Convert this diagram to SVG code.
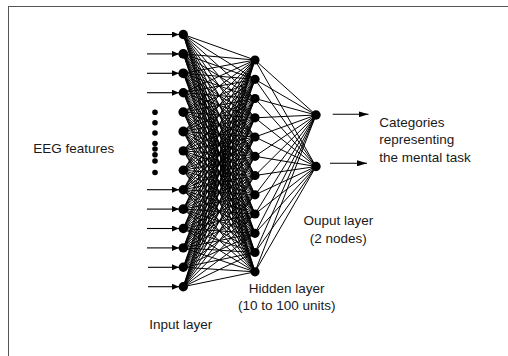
<svg xmlns="http://www.w3.org/2000/svg" width="508" height="356" viewBox="0 0 508 356">
<style>
.n{fill:#000}
.d{fill:#000}
.w{fill:none;stroke:#000;stroke-width:1;stroke-linejoin:round}
.a{stroke:#000;stroke-width:1.1;fill:none}
.t{font-family:"Liberation Sans",Arial,sans-serif;font-size:13.5px;fill:#1a1a1a}
</style>
<defs>
<marker id="ah" markerUnits="userSpaceOnUse" markerWidth="7" markerHeight="6" refX="7" refY="3" orient="auto"><path d="M0,0L7,3L0,6z" fill="#000"/></marker>
<marker id="ah2" markerUnits="userSpaceOnUse" markerWidth="10" markerHeight="6" refX="10" refY="3" orient="auto"><path d="M0,0L10,3L0,6z" fill="#000"/></marker>
</defs>
<rect x="8.5" y="6.5" width="520" height="370" fill="#fff" stroke="#555" stroke-width="1"/>
<g id="connectors">
<polyline class="w" points="183.3,34.5 255,60 183.3,53.9 255,79.3 183.3,34.5 255,98.5 183.3,53.9 255,117.8 183.3,34.5 255,137 183.3,53.9 255,156.3 183.3,34.5 255,175.5 183.3,53.9 255,194.8 183.3,34.5 255,214 183.3,53.9 255,233.3 183.3,34.5 255,252.5 183.3,53.9 255,271.8 183.3,34.5"/>
<polyline class="w" points="183.3,73.3 255,60 183.3,92.7 255,79.3 183.3,73.3 255,98.5 183.3,92.7 255,117.8 183.3,73.3 255,137 183.3,92.7 255,156.3 183.3,73.3 255,175.5 183.3,92.7 255,194.8 183.3,73.3 255,214 183.3,92.7 255,233.3 183.3,73.3 255,252.5 183.3,92.7 255,271.8 183.3,73.3"/>
<polyline class="w" points="183.3,112.1 255,60 183.3,131.5 255,79.3 183.3,112.1 255,98.5 183.3,131.5 255,117.8 183.3,112.1 255,137 183.3,131.5 255,156.3 183.3,112.1 255,175.5 183.3,131.5 255,194.8 183.3,112.1 255,214 183.3,131.5 255,233.3 183.3,112.1 255,252.5 183.3,131.5 255,271.8 183.3,112.1"/>
<polyline class="w" points="183.3,150.9 255,60 183.3,170.3 255,79.3 183.3,150.9 255,98.5 183.3,170.3 255,117.8 183.3,150.9 255,137 183.3,170.3 255,156.3 183.3,150.9 255,175.5 183.3,170.3 255,194.8 183.3,150.9 255,214 183.3,170.3 255,233.3 183.3,150.9 255,252.5 183.3,170.3 255,271.8 183.3,150.9"/>
<polyline class="w" points="183.3,189.7 255,60 183.3,209.1 255,79.3 183.3,189.7 255,98.5 183.3,209.1 255,117.8 183.3,189.7 255,137 183.3,209.1 255,156.3 183.3,189.7 255,175.5 183.3,209.1 255,194.8 183.3,189.7 255,214 183.3,209.1 255,233.3 183.3,189.7 255,252.5 183.3,209.1 255,271.8 183.3,189.7"/>
<polyline class="w" points="183.3,228.5 255,60 183.3,247.9 255,79.3 183.3,228.5 255,98.5 183.3,247.9 255,117.8 183.3,228.5 255,137 183.3,247.9 255,156.3 183.3,228.5 255,175.5 183.3,247.9 255,194.8 183.3,228.5 255,214 183.3,247.9 255,233.3 183.3,228.5 255,252.5 183.3,247.9 255,271.8 183.3,228.5"/>
<polyline class="w" points="183.3,267.3 255,60 183.3,286.7 255,79.3 183.3,267.3 255,98.5 183.3,286.7 255,117.8 183.3,267.3 255,137 183.3,286.7 255,156.3 183.3,267.3 255,175.5 183.3,286.7 255,194.8 183.3,267.3 255,214 183.3,286.7 255,233.3 183.3,267.3 255,252.5 183.3,286.7 255,271.8 183.3,267.3"/>
<polyline class="w" points="316,115 255,60 316,166.5 255,79.3 316,115 255,98.5 316,166.5 255,117.8 316,115 255,137 316,166.5 255,156.3 316,115 255,175.5 316,166.5 255,194.8 316,115 255,214 316,166.5 255,233.3 316,115 255,252.5 316,166.5 255,271.8 316,115"/>
<line class="a" x1="147" y1="34.5" x2="179" y2="34.5" marker-end="url(#ah)"/>
<line class="a" x1="147" y1="53.9" x2="179" y2="53.9" marker-end="url(#ah)"/>
<line class="a" x1="147" y1="73.3" x2="179" y2="73.3" marker-end="url(#ah)"/>
<line class="a" x1="147" y1="92.7" x2="179" y2="92.7" marker-end="url(#ah)"/>
<line class="a" x1="147" y1="189.7" x2="179" y2="189.7" marker-end="url(#ah)"/>
<line class="a" x1="147" y1="209.1" x2="179" y2="209.1" marker-end="url(#ah)"/>
<line class="a" x1="147" y1="228.5" x2="179" y2="228.5" marker-end="url(#ah)"/>
<line class="a" x1="147" y1="247.9" x2="179" y2="247.9" marker-end="url(#ah)"/>
<line class="a" x1="148" y1="267.3" x2="179" y2="267.3" marker-end="url(#ah)"/>
<line class="a" x1="148" y1="286.7" x2="179" y2="286.7" marker-end="url(#ah)"/>
<line class="a" x1="332.7" y1="114.3" x2="368.5" y2="114.3" marker-end="url(#ah2)"/>
<line class="a" x1="330" y1="163.3" x2="367" y2="163.3" marker-end="url(#ah2)"/>
</g>
<g id="ellipsis">
<circle class="d" cx="155" cy="112.3" r="2.8"/>
<circle class="d" cx="155" cy="122.7" r="2.8"/>
<circle class="d" cx="155" cy="133" r="2.8"/>
<circle class="d" cx="155" cy="143.5" r="2.8"/>
<circle class="d" cx="155" cy="149" r="2.8"/>
<circle class="d" cx="155" cy="154.7" r="2.8"/>
<circle class="d" cx="155" cy="161" r="2.8"/>
<circle class="d" cx="155" cy="172.5" r="2.8"/>
</g>
<g id="in1"><circle class="n" cx="183.3" cy="34.5" r="4.7"/></g>
<g id="in2"><circle class="n" cx="183.3" cy="53.9" r="4.9"/></g>
<g id="in3"><circle class="n" cx="183.3" cy="73.3" r="4.9"/></g>
<g id="in4"><circle class="n" cx="183.3" cy="92.7" r="4.7"/></g>
<g id="in5"><circle class="n" cx="183.3" cy="112.1" r="4.9"/></g>
<g id="in6"><circle class="n" cx="183.3" cy="131.5" r="4.9"/></g>
<g id="in7"><circle class="n" cx="183.3" cy="150.9" r="4.7"/></g>
<g id="in8"><circle class="n" cx="183.3" cy="170.3" r="4.7"/></g>
<g id="in9"><circle class="n" cx="183.3" cy="189.7" r="4.7"/></g>
<g id="in10"><circle class="n" cx="183.3" cy="209.1" r="4.9"/></g>
<g id="in11"><circle class="n" cx="183.3" cy="228.5" r="4.7"/></g>
<g id="in12"><circle class="n" cx="183.3" cy="247.9" r="4.7"/></g>
<g id="in13"><circle class="n" cx="183.3" cy="267.3" r="4.7"/></g>
<g id="in14"><circle class="n" cx="183.3" cy="286.7" r="4.7"/></g>
<g id="h1"><circle class="n" cx="255" cy="60" r="4.6"/></g>
<g id="h2"><circle class="n" cx="255" cy="79.3" r="4.6"/></g>
<g id="h3"><circle class="n" cx="255" cy="98.5" r="4.6"/></g>
<g id="h4"><circle class="n" cx="255" cy="117.8" r="4.6"/></g>
<g id="h5"><circle class="n" cx="255" cy="137" r="4.6"/></g>
<g id="h6"><circle class="n" cx="255" cy="156.3" r="4.6"/></g>
<g id="h7"><circle class="n" cx="255" cy="175.5" r="4.6"/></g>
<g id="h8"><circle class="n" cx="255" cy="194.8" r="4.6"/></g>
<g id="h9"><circle class="n" cx="255" cy="214" r="4.6"/></g>
<g id="h10"><circle class="n" cx="255" cy="233.3" r="4.6"/></g>
<g id="h11"><circle class="n" cx="255" cy="252.5" r="4.6"/></g>
<g id="h12"><circle class="n" cx="255" cy="271.8" r="4.6"/></g>
<g id="out1"><circle class="n" cx="316" cy="115" r="4.7"/></g>
<g id="out2"><circle class="n" cx="316" cy="166.5" r="4.7"/></g>
<g id="labels">
<text class="t" x="33.3" y="152.7">EEG features</text>
<text class="t" x="149.3" y="329">Input layer</text>
<text class="t" x="286.7" y="293.3" text-anchor="middle">Hidden layer</text>
<text class="t" x="286.7" y="310" text-anchor="middle">(10 to 100 units)</text>
<text class="t" x="338.3" y="225" text-anchor="middle">Ouput layer</text>
<text class="t" x="338.3" y="243.3" text-anchor="middle">(2 nodes)</text>
<text class="t" x="379.3" y="126.7">Categories</text>
<text class="t" x="379.3" y="144">representing</text>
<text class="t" x="379.3" y="161.5">the mental task</text>
</g>
</svg>
